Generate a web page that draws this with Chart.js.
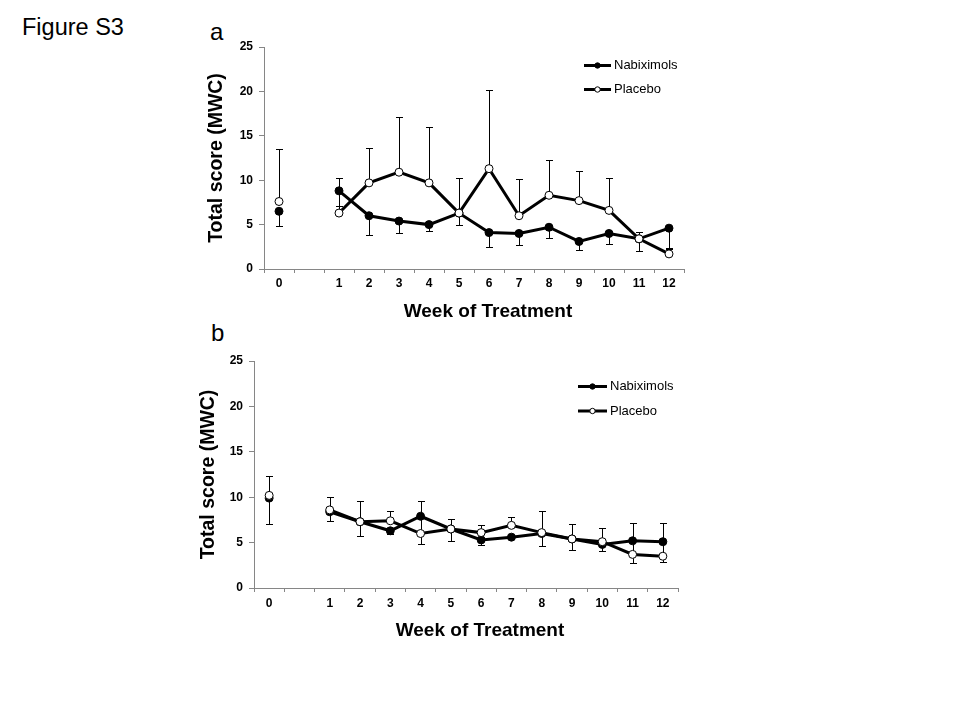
<!DOCTYPE html>
<html><head><meta charset="utf-8">
<script src="https://cdn.jsdelivr.net/npm/chart.js@4"></script>
<style>
html,body{margin:0;padding:0;background:#fff;}
body{width:960px;height:720px;position:relative;overflow:hidden;font-family:"Liberation Sans",Arial,sans-serif;}
.lbl{position:absolute;color:#000;line-height:1;white-space:nowrap;}
.cw{position:absolute;}
</style></head><body>
<div class="lbl" style="left:22px;top:16px;font-size:23.5px;">Figure S3</div>
<div class="lbl" style="left:210px;top:20px;font-size:24px;">a</div>
<div class="lbl" style="left:211px;top:321px;font-size:24px;">b</div>
<div class="cw" style="left:200px;top:20px;width:520px;height:320px;"><canvas id="ca"></canvas></div>
<div class="cw" style="left:190px;top:330px;width:520px;height:330px;"><canvas id="cb"></canvas></div>
<script>
// ---- data ----
const weekLabels = ['0', '', '1', '2', '3', '4', '5', '6', '7', '8', '9', '10', '11', '12'];
const seriesNames = ['Nabiximols', 'Placebo'];
const yTicks = [0, 5, 10, 15, 20, 25];
const yTitle = 'Total score (MWC)';
const xTitle = 'Week of Treatment';

// Panel a
const nabA      = [6.5, null, 8.8, 6.0, 5.4, 5.0, 6.3, 4.1, 4.0, 4.7, 3.1, 4.0, 3.4, 4.6];
const nabAMinus = [1.7, null, 1.7, 2.2, 1.4, 0.7, 1.4, 1.6, 1.3, 1.2, 1.0, 1.2, 1.4, 2.2];
const plaA      = [7.6, null, 6.3, 9.7, 10.9, 9.7, 6.3, 11.3, 6.0, 8.3, 7.7, 6.6, 3.4, 1.7];
const plaAPlus  = [5.9, null, 3.9, 3.9, 6.2, 6.3, 3.9, 8.9, 4.1, 4.0, 3.3, 3.6, 0.8, 0.6];

// Panel b
const nabB      = [9.9, null, 8.4, 7.3, 6.3, 7.9, 6.5, 5.3, 5.6, 6.0, 5.4, 4.8, 5.2, 5.1];
const nabBMinus = [2.9, null, 1.0, 1.6, 0.3, 3.1, 1.3, 0.55, 0.2, 1.4, 1.2, 0.7, 2.5, 2.2];
const plaB      = [10.2, null, 8.6, 7.3, 7.4, 6.0, 6.5, 6.1, 6.9, 6.1, 5.4, 5.1, 3.7, 3.5];
const plaBPlus  = [2.1, null, 1.4, 2.3, 1.1, 3.6, 1.1, 0.8, 0.9, 2.4, 1.7, 1.5, 3.5, 3.7];

Chart.defaults.font.family = '"Liberation Sans", Arial, sans-serif';
Chart.defaults.color = '#000';

const AXIS = '#868686';

const errorBars = {
  id: 'errorBars',
  beforeDatasetsDraw(chart) {
    const ctx = chart.ctx, y = chart.scales.y;
    ctx.save();
    ctx.strokeStyle = '#000';
    ctx.lineWidth = 1;
    chart.data.datasets.forEach((ds, di) => {
      const meta = chart.getDatasetMeta(di);
      ds.data.forEach((v, i) => {
        if (v === null) return;
        const px = Math.round(meta.data[i].x) + 0.5;
        const py = y.getPixelForValue(v);
        const draw = (val) => {
          const ey = Math.round(y.getPixelForValue(val)) + 0.5;
          ctx.beginPath();
          ctx.moveTo(px, py); ctx.lineTo(px, ey);
          ctx.moveTo(px - 3.5, ey); ctx.lineTo(px + 3.5, ey);
          ctx.stroke();
        };
        if (ds.errPlus && ds.errPlus[i] != null) draw(v + ds.errPlus[i]);
        if (ds.errMinus && ds.errMinus[i] != null) draw(v - ds.errMinus[i]);
      });
    });
    ctx.restore();
  }
};

const sideLegend = {
  id: 'sideLegend',
  afterDraw(chart, args, opts) {
    const ctx = chart.ctx;
    ctx.save();
    chart.data.datasets.forEach((ds, i) => {
      const yy = opts.y + i * opts.gap;
      ctx.strokeStyle = '#000';
      ctx.lineWidth = 3;
      ctx.beginPath();
      ctx.moveTo(opts.x, yy); ctx.lineTo(opts.x + opts.len, yy);
      ctx.stroke();
      ctx.beginPath();
      ctx.arc(opts.x + opts.len / 2, yy, 2.7, 0, Math.PI * 2);
      ctx.fillStyle = ds.pointBackgroundColor;
      ctx.fill();
      ctx.lineWidth = 1;
      ctx.stroke();
      ctx.fillStyle = '#000';
      ctx.font = '13px "Liberation Sans", Arial, sans-serif';
      ctx.textBaseline = 'middle';
      ctx.textAlign = 'left';
      ctx.fillText(ds.label, opts.x + opts.len + 3, yy);
    });
    ctx.restore();
  }
};

const xTitlePlugin = {
  id: 'xTitle',
  afterDraw(chart, args, opts) {
    const ctx = chart.ctx, a = chart.chartArea;
    ctx.save();
    ctx.fillStyle = '#000';
    ctx.font = 'bold 19px "Liberation Sans", Arial, sans-serif';
    ctx.textAlign = 'center';
    ctx.textBaseline = 'middle';
    ctx.fillText(opts.text, (a.left + a.right) / 2 + opts.dx, a.bottom + opts.dy);
    ctx.restore();
  }
};

function makeChart(id, nab, nabMinus, pla, plaPlus, geo) {
  return new Chart(document.getElementById(id), {
    type: 'line',
    data: {
      labels: weekLabels,
      datasets: [
        { label: seriesNames[0], data: nab, errMinus: nabMinus,
          borderColor: '#000', backgroundColor: '#000', borderWidth: 3,
          pointRadius: 4, pointBackgroundColor: '#000', pointBorderColor: '#000', pointBorderWidth: 1,
          spanGaps: false, tension: 0, order: 1 },
        { label: seriesNames[1], data: pla, errPlus: plaPlus,
          borderColor: '#000', backgroundColor: '#fff', borderWidth: 3,
          pointRadius: 4, pointBackgroundColor: '#fff', pointBorderColor: '#000', pointBorderWidth: 1,
          spanGaps: false, tension: 0, order: 0 }
      ]
    },
    options: {
      responsive: true, maintainAspectRatio: false, animation: false,
      layout: { padding: { left: 0, top: geo.top, right: geo.right, bottom: 0 } },
      plugins: {
        legend: { display: false }, tooltip: { enabled: false },
        sideLegend: geo.legend,
        xTitle: { text: xTitle, dx: 14, dy: 43 }
      },
      scales: {
        x: {
          type: 'category', offset: true,
          grid: { offset: true, drawOnChartArea: false, drawTicks: true, tickLength: 4, color: AXIS },
          border: { color: AXIS, width: 1 },
          ticks: { font: { size: 12, weight: 'bold' }, color: '#000', padding: geo.xPad, maxRotation: 0, autoSkip: false },
          afterFit(s) { s.height = geo.xH; }
        },
        y: {
          min: 0, max: 25,
          afterBuildTicks(s) { s.ticks = yTicks.map(v => ({ value: v })); },
          grid: { drawOnChartArea: false, drawTicks: true, tickLength: 5, color: AXIS },
          border: { color: AXIS, width: 1 },
          ticks: { font: { size: 12, weight: 'bold' }, color: '#000', padding: 6 },
          title: { display: true, text: yTitle, font: { size: 19.5, weight: 'bold' }, color: '#000', padding: { top: geo.tPad, bottom: 0 } },
          afterFit(s) { s.width = geo.yW; }
        }
      }
    },
    plugins: [errorBars, sideLegend, xTitlePlugin]
  });
}

makeChart('ca', nabA, nabAMinus, plaA, plaAPlus,
  { top: 27, right: 36, xH: 71, yW: 64, tPad: 5, xPad: 3,
    legend: { x: 384, y: 45.5, gap: 24, len: 27 } });
makeChart('cb', nabB, nabBMinus, plaB, plaBPlus,
  { top: 31, right: 32, xH: 72, yW: 64, tPad: 7, xPad: 4,
    legend: { x: 388, y: 56.5, gap: 24.5, len: 29 } });
</script>
</body></html>
